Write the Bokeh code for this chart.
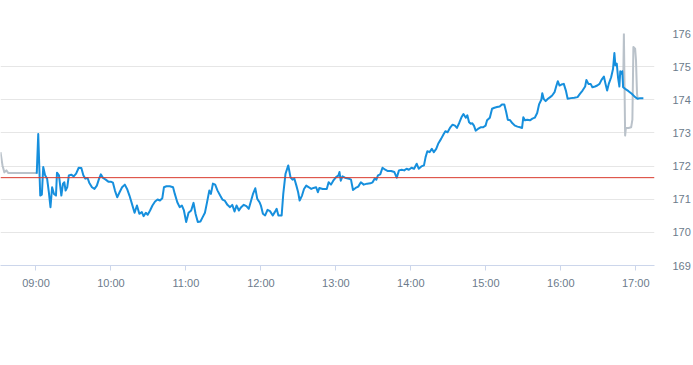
import pandas as pd
from bokeh.plotting import figure
from bokeh.models import Span, FixedTicker, DatetimeTickFormatter, Range1d
from bokeh.embed import file_html
from bokeh.resources import INLINE

# ---- data (minutes after 09:00, price) ----
session_date = "2024-01-02"
pre_minutes = [-28.4, -26.8, -25.3, -23.7, -22.1, 0.6]
pre_price = [172.42, 172.02, 171.81, 171.87, 171.79, 171.79]

session_minutes = [
    0.6, 1.8, 3.4, 4.7, 5.8, 7.3, 8.9, 10.3, 11.6, 12.9, 14.4, 16.0, 16.8, 18.4, 20.3, 21.6,
    22.7, 23.7, 25.0, 26.3, 28.2, 30.2, 32.1, 34.2, 36.3, 37.9, 39.5, 41.3, 42.6, 44.8, 46.8,
    48.7, 50.5, 51.9, 53.7, 55.8, 57.9, 59.8, 61.6, 63.2, 65.0, 66.9, 68.9, 71.1, 72.9, 74.8,
    76.8, 78.9, 80.8, 82.7, 84.7, 86.1, 87.9, 89.4, 91.3, 93.2, 95.3, 97.3, 99.2, 101.1, 102.4,
    104.4, 107.1, 109.7, 111.1, 113.1, 115.0, 116.8, 118.4, 120.2, 122.1, 124.2, 126.1, 127.7,
    129.5, 131.6, 133.4, 135.2, 136.8, 138.7, 140.0, 141.6, 143.4, 145.3, 147.4, 149.2, 151.0,
    153.2, 155.3, 157.1, 158.9, 160.5, 162.4, 164.2, 166.3, 168.4, 170.3, 173.6, 175.5, 177.1,
    178.9, 180.0, 181.6, 183.4, 185.3, 187.3, 189.5, 191.1, 192.6, 194.0, 196.6, 197.9, 199.7,
    201.9, 203.7, 205.3, 206.8, 208.4, 209.8, 211.0, 212.9, 214.5, 216.3, 218.4, 220.3, 222.1,
    224.2, 225.6, 226.8, 229.5, 232.7, 234.2, 236.1, 237.9, 240.0, 242.1, 242.9, 243.9, 245.3,
    247.3, 250.5, 252.1, 253.7, 255.8, 257.9, 260.0, 262.3, 265.0, 267.6, 269.4, 271.0, 272.4,
    273.7, 275.5, 277.3, 279.5, 281.6, 284.2, 286.8, 288.7, 290.5, 292.7, 294.7, 296.6, 298.4,
    300.5, 302.6, 304.7, 306.3, 308.4, 310.5, 311.8, 313.2, 315.0, 316.8, 318.4, 320.3, 322.1,
    324.2, 326.3, 327.6, 329.4, 331.6, 333.4, 335.3, 336.9, 338.7, 340.5, 342.1, 344.0, 345.2,
    346.6, 347.9, 349.2, 350.5, 351.9, 353.7, 355.8, 357.9, 359.8, 361.0, 363.2, 365.0, 366.9,
    368.9, 371.1, 372.9, 374.8, 376.3, 377.6, 379.5, 381.3, 383.4, 385.3, 387.4, 389.0, 390.0,
    391.3, 393.2, 395.3, 397.3, 399.2, 401.1, 402.6, 404.4, 405.2, 406.3, 407.9, 409.7, 411.5,
    413.1, 415.0, 416.3, 417.6, 419.0, 420.5, 422.4, 424.2, 425.5, 428.1, 430.8, 433.4, 435.3,
    437.4, 439.5, 440.5, 442.1, 443.9, 445.3, 447.4, 449.2, 451.0, 452.6, 454.5, 455.8, 457.1,
    458.4, 460.3, 461.8, 462.9, 463.7, 464.8, 465.8, 466.9, 467.6, 468.4, 469.2, 469.9, 471.5,
    474.2, 476.8, 479.5, 481.6, 483.4, 486.1,
]
session_price = [
    171.77, 172.97, 171.11, 171.14, 171.97, 171.72, 171.62, 171.21, 170.76, 171.36, 171.16,
    171.11, 171.80, 171.72, 171.11, 171.47, 171.51, 171.26, 171.36, 171.72, 171.74, 171.69,
    171.77, 171.95, 171.94, 171.72, 171.62, 171.64, 171.50, 171.36, 171.31, 171.41, 171.62,
    171.75, 171.64, 171.59, 171.53, 171.53, 171.50, 171.26, 171.06, 171.21, 171.36, 171.44,
    171.31, 171.11, 170.86, 170.59, 170.81, 170.56, 170.61, 170.49, 170.59, 170.53, 170.66,
    170.81, 170.93, 170.99, 170.96, 171.03, 171.36, 171.39, 171.39, 171.36, 171.16, 170.91,
    170.76, 170.81, 170.66, 170.31, 170.59, 170.66, 170.89, 170.56, 170.31, 170.33, 170.46,
    170.59, 170.89, 171.26, 171.16, 171.47, 171.44, 171.26, 171.11, 170.99, 170.96, 170.83,
    170.76, 170.83, 170.63, 170.81, 170.66, 170.76, 170.83, 170.79, 170.71, 171.15, 171.33,
    171.01, 170.91, 170.81, 170.56, 170.51, 170.68, 170.64, 170.51, 170.61, 170.71, 170.51,
    170.51, 171.16, 171.77, 172.02, 171.66, 171.59, 171.62, 171.41, 171.21, 170.96, 171.11,
    171.31, 171.41, 171.36, 171.31, 171.34, 171.36, 171.21, 171.34, 171.31, 171.31, 171.51,
    171.44, 171.56, 171.66, 171.72, 171.82, 171.56, 171.69, 171.65, 171.62, 171.59, 171.28,
    171.34, 171.38, 171.51, 171.44, 171.47, 171.48, 171.51, 171.62, 171.59, 171.72, 171.75,
    171.95, 171.89, 171.85, 171.85, 171.82, 171.65, 171.87, 171.89, 171.87, 171.92, 171.89,
    171.95, 171.92, 172.07, 171.92, 171.99, 172.02, 172.27, 172.45, 172.42, 172.52, 172.42,
    172.52, 172.69, 172.82, 172.97, 173.05, 173.02, 173.17, 173.25, 173.22, 173.15, 173.30,
    173.47, 173.57, 173.46, 173.53, 173.32, 173.28, 173.29, 173.22, 173.07, 173.12, 173.17,
    173.17, 173.22, 173.38, 173.46, 173.73, 173.76, 173.78, 173.80, 173.86, 173.86, 173.63,
    173.40, 173.38, 173.29, 173.22, 173.19, 173.17, 173.15, 173.47, 173.38, 173.40, 173.38,
    173.43, 173.46, 173.60, 173.86, 174.00, 174.20, 174.03, 173.96, 174.03, 174.08, 174.13,
    174.23, 174.40, 174.56, 174.43, 174.46, 174.48, 174.26, 174.03, 174.05, 174.06, 174.08,
    174.18, 174.28, 174.40, 174.60, 174.48, 174.48, 174.38, 174.40, 174.43, 174.48, 174.60,
    174.70, 174.48, 174.28, 174.48, 174.68, 174.93, 175.41, 175.04, 175.09, 174.68, 174.40,
    174.86, 174.79, 174.86, 174.38, 174.33, 174.26, 174.18, 174.08, 174.03, 174.05, 174.05,
]

post_minutes = [469.9, 470.5, 471.5, 472.1, 474.2, 476.3, 477.3, 478.1, 479.5, 480.2, 481.0, 481.6]
post_price = [174.38, 176.00, 172.92, 173.15, 173.15, 173.17, 173.40, 175.59, 175.54, 175.19, 174.18, 174.03]

prev_close = 171.65
hour_labels = ["09:00", "10:00", "11:00", "12:00", "13:00", "14:00", "15:00", "16:00", "17:00"]
view_minutes = [-28.4, 495.0]
price_range = [169, 176]

# ---- helpers ----
open_time = pd.Timestamp(f"{session_date} 09:00")


def to_time(mins):
    return [open_time + pd.Timedelta(minutes=m) for m in mins]


def to_ms(ts):
    return ts.value / 1e6


tick_ms = [to_ms(pd.Timestamp(f"{session_date} {h}")) for h in hour_labels]

p = figure(
    width=693, height=325, output_backend="svg", toolbar_location=None,
    x_axis_type="datetime", y_axis_location="right",
    min_border_left=0, min_border_right=30, min_border_top=33, min_border_bottom=60,
)
p.title.visible = False
p.outline_line_color = None
p.background_fill_color = "white"
p.border_fill_color = "white"

p.x_range = Range1d(to_ms(to_time([view_minutes[0]])[0]), to_ms(to_time([view_minutes[1]])[0]))
p.y_range = Range1d(price_range[0], price_range[1])

# grids
p.xgrid.visible = False
p.ygrid.grid_line_color = "#e6e6e6"
p.ygrid.grid_line_width = 1

# x axis
fmt = "%H:%M"
p.xaxis.ticker = FixedTicker(ticks=tick_ms)
p.xaxis.formatter = DatetimeTickFormatter(
    milliseconds=fmt, seconds=fmt, minsec=fmt, minutes=fmt, hourmin=fmt, hours=fmt,
    days=fmt, months=fmt, years=fmt,
)
p.xaxis.axis_line_color = "#ccd6eb"
p.xaxis.major_tick_line_color = "#ccd6eb"
p.xaxis.major_tick_out = 5
p.xaxis.major_tick_in = 0
p.xaxis.minor_tick_line_color = None
p.xaxis.major_label_standoff = 6
p.xaxis.major_label_text_font = "Liberation Sans"
p.xaxis.major_label_text_font_size = "11px"
p.xaxis.major_label_text_color = "#6c7b8b"

# y axis (right)
p.yaxis.ticker = FixedTicker(ticks=list(range(price_range[0], price_range[1] + 1)))
p.yaxis.axis_line_color = None
p.yaxis.major_tick_line_color = None
p.yaxis.minor_tick_line_color = None
p.yaxis.major_label_standoff = 12
p.yaxis.major_label_text_font = "Liberation Sans"
p.yaxis.major_label_text_font_size = "11px"
p.yaxis.major_label_text_color = "#6c7b8b"

# previous close
p.add_layout(Span(location=prev_close, dimension="width", line_color="#d9392c", line_width=1))

grey = "#bac2ca"
blue = "#168fdd"
p.line(to_time(pre_minutes), pre_price, line_color=grey, line_width=2, line_join="round")
p.line(to_time(post_minutes), post_price, line_color=grey, line_width=2, line_join="round")
p.line(to_time(session_minutes), session_price, line_color=blue, line_width=2, line_join="round")

open("out.html", "w").write(file_html(p, INLINE))
